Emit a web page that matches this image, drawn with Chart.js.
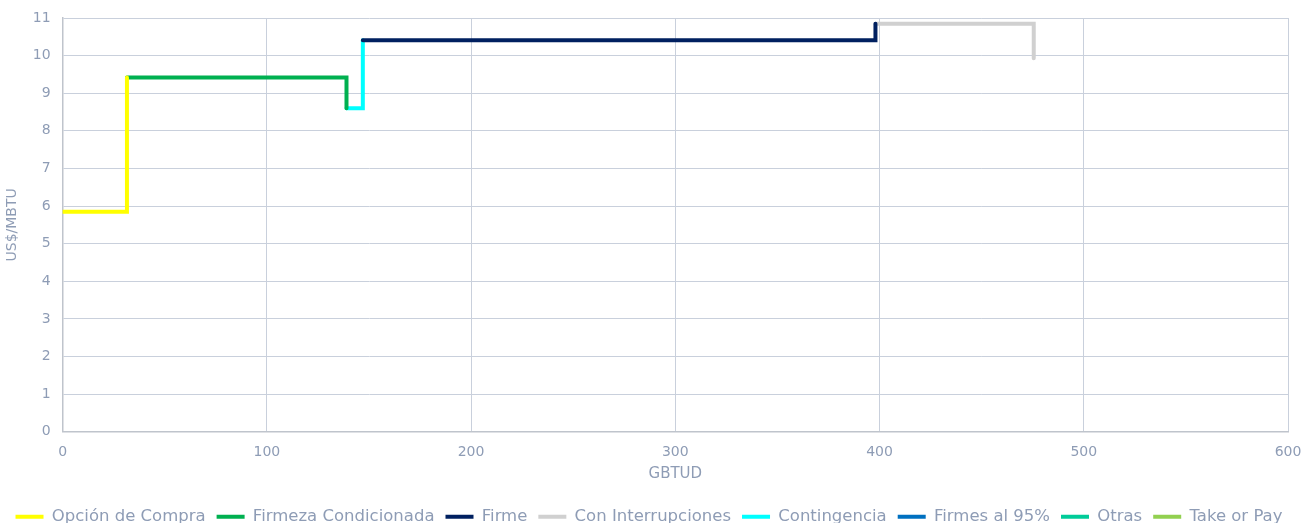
<!DOCTYPE html>
<html>
<head>
<meta charset="utf-8">
<script src="https://cdn.jsdelivr.net/npm/chart.js@4"></script>
<style>
html,body{margin:0;padding:0;background:#fff;}
#wrap{width:1303px;height:523px;}
</style>
</head>
<body>
<div id="wrap"><canvas id="c" width="1303" height="523"></canvas></div>
<script>
// Data (GBTUD, US$/MBTU), step corners included
const opcionX = [0, 31.5, 31.5];
const opcionY = [5.85, 5.85, 9.42];
const firmezaX = [31.5, 139, 139];
const firmezaY = [9.42, 9.42, 8.6];
const contingX = [139, 147, 147];
const contingY = [8.6, 8.6, 10.41];
const firmeX = [147, 398, 398];
const firmeY = [10.41, 10.41, 10.85];
const interrX = [398, 475.5, 475.5];
const interrY = [10.85, 10.85, 9.93];
const xTicks = [0, 100, 200, 300, 400, 500, 600];
const yTicks = [0,1,2,3,4,5,6,7,8,9,10,11];

const seriesNames = ["Opción de Compra","Firmeza Condicionada","Firme","Con Interrupciones","Contingencia","Firmes al 95%","Otras","Take or Pay"];
const seriesColors = ["#ffff00","#00b050","#002060","#d0d0d0","#00ffff","#0070c0","#00cc99","#92d050"];

function pts(xs, ys){ return xs.map((x,i)=>({x:x, y:ys[i]})); }
const seriesData = [pts(opcionX,opcionY), pts(firmezaX,firmezaY), pts(firmeX,firmeY), pts(interrX,interrY), pts(contingX,contingY), [], [], []];

const txt = "#8e9cb5";
const grid = "#c9d0dc";
const FONT = "DejaVu Sans";

const datasets = seriesNames.map((n,i)=>({
  label:n,
  data:seriesData[i],
  borderColor:seriesColors[i],
  backgroundColor:seriesColors[i],
  borderWidth:4,
  pointRadius:0,
  fill:false,
  tension:0,
  borderCapStyle:'round',
  borderJoinStyle:'miter'
}));

new Chart(document.getElementById('c'), {
  type:'line',
  data:{datasets:datasets},
  options:{
    responsive:false,
    animation:false,
    layout:{padding:{left:4,right:9,top:18,bottom:-12}},
    plugins:{
      legend:{
        position:'bottom',
        labels:{
          color:txt,
          font:{family:FONT,size:16.5},
          usePointStyle:true,
          pointStyle:'line',
          pointStyleWidth:28,
          boxHeight:5,
          padding:11
        }
      },
      tooltip:{enabled:false}
    },
    scales:{
      x:{
        type:'linear',
        min:0,max:600,
        afterBuildTicks:(ax)=>{ax.ticks = xTicks.map(v=>({value:v}));},
        afterFit:(ax)=>{ax.paddingRight = 15;},
        ticks:{color:txt,font:{family:FONT,size:14},padding:12},
        grid:{color:grid,lineWidth:1,drawTicks:false},
        border:{color:"#bfc4cc",width:1.5},
        title:{display:true,text:"GBTUD",color:txt,font:{family:FONT,size:15},padding:{top:-7,bottom:14}}
      },
      y:{
        type:'linear',
        min:0,max:11,
        afterBuildTicks:(ax)=>{ax.ticks = yTicks.map(v=>({value:v}));},
        afterFit:(ax)=>{ax.paddingTop = 0; ax.paddingBottom = 0;},
        ticks:{color:txt,font:{family:FONT,size:14},padding:12},
        grid:{color:grid,lineWidth:1,drawTicks:false},
        border:{color:"#bfc4cc",width:1.5},
        title:{display:true,text:"US$/MBTU",color:txt,font:{family:FONT,size:14},padding:{top:0,bottom:0}}
      }
    }
  }
});
</script>
</body>
</html>
